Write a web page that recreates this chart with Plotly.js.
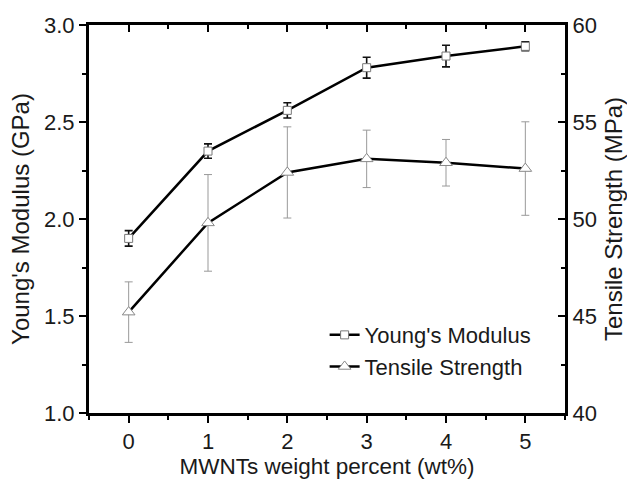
<!DOCTYPE html>
<html>
<head>
<meta charset="utf-8">
<script src="https://cdn.plot.ly/plotly-3.0.1.min.js"></script>
<style>
  html, body { margin: 0; padding: 0; background: #fff; }
  #chart { width: 627px; height: 486px; }
</style>
</head>
<body>
<div id="chart"></div>
<script>
// MWNT loading (wt%)
const loading = [0, 1, 2, 3, 4, 5];

// Young's modulus (GPa) and its standard deviation
const modulus = [1.90, 2.35, 2.56, 2.78, 2.84, 2.89];
const modulusErr = [0.04, 0.037, 0.039, 0.054, 0.056, 0.023];

// Tensile strength (MPa) and its standard deviation
const strength = [45.2, 49.8, 52.4, 53.1, 52.9, 52.6];
const strengthErr = [1.56, 2.49, 2.35, 1.48, 1.2, 2.41];

const FONT = 'Liberation Sans, Arial, sans-serif';
const INK = '#1a1a1a';
const TICK_SIZE = 22;
const TITLE_SIZE = 24;

const traces = [
  {
    x: loading, y: modulus, name: "Young's Modulus",
    type: 'scatter', mode: 'lines+markers',
    line: { color: '#000', width: 2.5 },
    marker: { symbol: 'square', size: 8, color: '#fff', line: { color: '#777', width: 1 } },
    error_y: { type: 'data', array: modulusErr, visible: true, color: '#111', thickness: 1.6, width: 4 },
    xaxis: 'x', yaxis: 'y'
  },
  {
    x: loading, y: strength, name: 'Tensile Strength',
    type: 'scatter', mode: 'lines+markers',
    line: { color: '#000', width: 2.5 },
    marker: { symbol: 'triangle-up', size: 11, color: '#fff', line: { color: '#888', width: 1 } },
    error_y: { type: 'data', array: strengthErr, visible: true, color: '#999', thickness: 1, width: 4 },
    xaxis: 'x', yaxis: 'y2'
  }
];

const axisCommon = {
  showgrid: false, zeroline: false, showline: true,
  linecolor: '#000', linewidth: 3, tickcolor: '#000', tickwidth: 2,
  tickfont: { family: FONT, size: TICK_SIZE, color: INK }
};

const layout = {
  width: 627, height: 486,
  margin: { l: 89, r: 62, t: 25, b: 73 },
  paper_bgcolor: '#fff', plot_bgcolor: '#fff',
  font: { family: FONT, color: INK },
  showlegend: true,
  legend: {
    x: 0.495, y: 0.255, xanchor: 'left', yanchor: 'top',
    bgcolor: 'rgba(0,0,0,0)', borderwidth: 0,
    font: { family: FONT, size: 22, color: INK },
    tracegroupgap: 0
  },
  xaxis: Object.assign({}, axisCommon, {
    range: [-0.5, 5.5], tickmode: 'linear', tick0: 0, dtick: 1,
    ticks: 'outside', ticklen: 7,
    minor: { dtick: 0.5, tick0: 0, ticks: 'outside', ticklen: 4, tickwidth: 2, tickcolor: '#000' },
    title: { text: 'MWNTs weight percent (wt%)', font: { family: FONT, size: 22.5, color: INK }, standoff: 0 }
  }),
  xaxis2: Object.assign({}, axisCommon, {
    range: [-0.5, 5.5], overlaying: 'x', side: 'top', anchor: 'y',
    tickmode: 'linear', tick0: 0, dtick: 1, showticklabels: false,
    ticks: 'inside', ticklen: 7,
    minor: { dtick: 0.5, tick0: 0, ticks: 'inside', ticklen: 4, tickwidth: 2, tickcolor: '#000' }
  }),
  yaxis: Object.assign({}, axisCommon, {
    range: [1.0, 3.0], tickmode: 'linear', tick0: 1, dtick: 0.5, tickformat: '.1f',
    ticks: 'outside', ticklen: 7,
    minor: { dtick: 0.25, tick0: 1, ticks: 'outside', ticklen: 4, tickwidth: 2, tickcolor: '#000' },
    title: { text: "Young's Modulus (GPa)", font: { family: FONT, size: TITLE_SIZE, color: INK }, standoff: 8 }
  }),
  yaxis2: Object.assign({}, axisCommon, {
    range: [40, 60], overlaying: 'y', side: 'right', anchor: 'x',
    tickmode: 'linear', tick0: 40, dtick: 5,
    ticks: 'inside', ticklen: 7,
    minor: { dtick: 2.5, tick0: 40, ticks: 'inside', ticklen: 4, tickwidth: 2, tickcolor: '#000' },
    title: { text: 'Tensile Strength (MPa)', font: { family: FONT, size: TITLE_SIZE, color: INK }, standoff: 10 }
  })
};

// invisible trace keeps the top mirror axis alive
traces.push({ x: [0], y: [1], xaxis: 'x2', yaxis: 'y', mode: 'markers',
  marker: { opacity: 0 }, showlegend: false, hoverinfo: 'skip' });

Plotly.newPlot('chart', traces, layout, { displayModeBar: false, staticPlot: true });
</script>
</body>
</html>
